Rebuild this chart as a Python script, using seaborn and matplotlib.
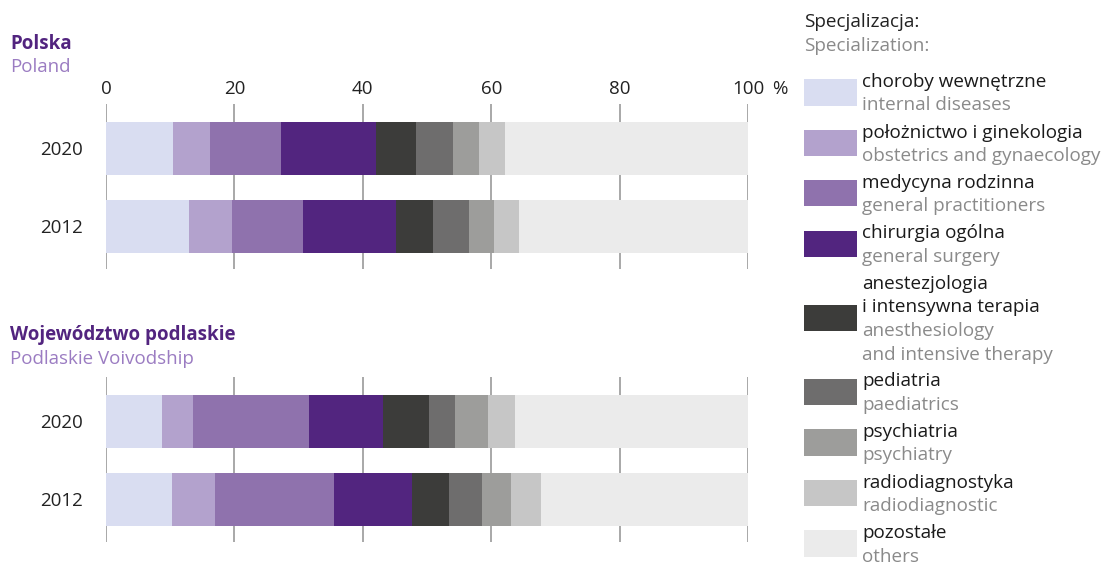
import pandas as pd
import matplotlib.pyplot as plt
import seaborn as sns
from matplotlib.patches import Rectangle

# Data: share of doctors by specialization (%)
years = ['2020', '2012']
categories = ['choroby wewnętrzne', 'położnictwo i ginekologia', 'medycyna rodzinna',
              'chirurgia ogólna', 'anestezjologia i intensywna terapia', 'pediatria',
              'psychiatria', 'radiodiagnostyka', 'pozostałe']
polska_2020 = [10.4, 5.8, 11.1, 14.7, 6.3, 5.8, 4.0, 4.0, 37.9]
polska_2012 = [12.9, 6.7, 11.1, 14.5, 5.8, 5.5, 4.0, 3.9, 35.6]
podlaskie_2020 = [8.7, 4.8, 18.1, 11.6, 7.1, 4.1, 5.1, 4.2, 36.3]
podlaskie_2012 = [10.3, 6.7, 18.5, 12.2, 5.8, 5.1, 4.5, 4.7, 32.2]

legend_pl = [['choroby wewnętrzne'], ['położnictwo i ginekologia'], ['medycyna rodzinna'],
             ['chirurgia ogólna'], ['anestezjologia', 'i intensywna terapia'], ['pediatria'],
             ['psychiatria'], ['radiodiagnostyka'], ['pozostałe']]
legend_en = [['internal diseases'], ['obstetrics and gynaecology'], ['general practitioners'],
             ['general surgery'], ['anesthesiology', 'and intensive therapy'], ['paediatrics'],
             ['psychiatry'], ['radiodiagnostic'], ['others']]

colors = ['#d9ddf1', '#b3a2cd', '#8f72ad', '#52257f', '#3c3c3a',
          '#6e6d6d', '#9d9d9b', '#c6c6c6', '#ebebeb']

ticks = [0, 20, 40, 60, 80, 100]

sns.set_style('white')
plt.rcParams['font.family'] = ['Open Sans', 'DejaVu Sans']

W, H = 1104, 566
fig = plt.figure(figsize=(W / 100, H / 100), dpi=100)


def fx(x):
    return x / W


def fy(y):
    return 1 - y / H


def build(v2020, v2012):
    rows = []
    for year, vals in zip(years, [v2020, v2012]):
        cum = 0
        for cat, v in zip(categories, vals):
            cum += v
            rows.append({'year': year, 'cat': cat, 'value': v, 'cum': cum})
    return pd.DataFrame(rows)


panels = [
    ('Polska', 'Poland', build(polska_2020, polska_2012), 104, 269, 44, 67),
    ('Województwo podlaskie', 'Podlaskie Voivodship', build(podlaskie_2020, podlaskie_2012), 377, 542, 335, 359),
]

for i, (title_pl, title_en, df, top, bottom, ty1, ty2) in enumerate(panels):
    ax = fig.add_axes([fx(106), fy(bottom), fx(748) - fx(106), (bottom - top) / H])
    # stacked bars: draw cumulative totals from the largest down
    for cat, col in reversed(list(zip(categories, colors))):
        sns.barplot(data=df[df['cat'] == cat], x='cum', y='year', order=years,
                    color=col, saturation=1, width=0.68, errorbar=None,
                    linewidth=0, orient='h', ax=ax)
    ax.set_xlim(0, 100)
    ax.set_ylim(1.545, -0.57)
    ax.set_xticks(ticks)
    ax.grid(axis='x', color='#9a9a9a', linewidth=1.2)
    ax.grid(axis='y', visible=False)
    ax.set_axisbelow(True)
    for s in ax.spines.values():
        s.set_visible(False)
    ax.set_xlabel('')
    ax.set_ylabel('')
    ax.tick_params(axis='y', length=0, pad=17, labelsize=13.5, labelcolor='#222222')
    if i == 0:
        ax.xaxis.tick_top()
        ax.set_xticklabels([str(t) for t in ticks])
        ax.tick_params(axis='x', length=0, pad=4, labelsize=13.5, labelcolor='#222222')
        ax.annotate('%', xy=(104.9, 1.0), xycoords=ax.get_xaxis_transform(),
                    xytext=(0, 4), textcoords='offset points', ha='center',
                    va='bottom', fontsize=13.5, color='#222222')
    else:
        ax.tick_params(axis='x', length=0, labelbottom=False, labeltop=False)

    fig.text(fx(10), fy(ty1), title_pl, fontsize=13.5, fontweight='bold',
             color='#52247f', va='center')
    fig.text(fx(10), fy(ty2), title_en, fontsize=13.5, color='#9b7cc2', va='center')

# legend
fs = 13.6
fig.text(fx(804), fy(22), 'Specjalizacja:', fontsize=fs, color='#222222', va='center')
fig.text(fx(804), fy(46), 'Specialization:', fontsize=fs, color='#8a8a8a', va='center')

line_h = 23.5
y = 82
for pl, en, col in zip(legend_pl, legend_en, colors):
    for k, t in enumerate(pl):
        fig.text(fx(862), fy(y + k * line_h), t, fontsize=fs, color='#1a1a1a', va='center')
    last_pl = y + (len(pl) - 1) * line_h
    first_en = y + len(pl) * line_h
    for k, t in enumerate(en):
        fig.text(fx(862), fy(first_en + k * line_h), t, fontsize=fs, color='#8a8a8a', va='center')
    fig.add_artist(Rectangle((fx(804), fy(first_en)), fx(857) - fx(804),
                             (first_en - last_pl + 3) / H, transform=fig.transFigure,
                             facecolor=col, edgecolor='none'))
    y = first_en + (len(en) - 1) * line_h + line_h + 3.5

fig.savefig('out.png', dpi=100)
